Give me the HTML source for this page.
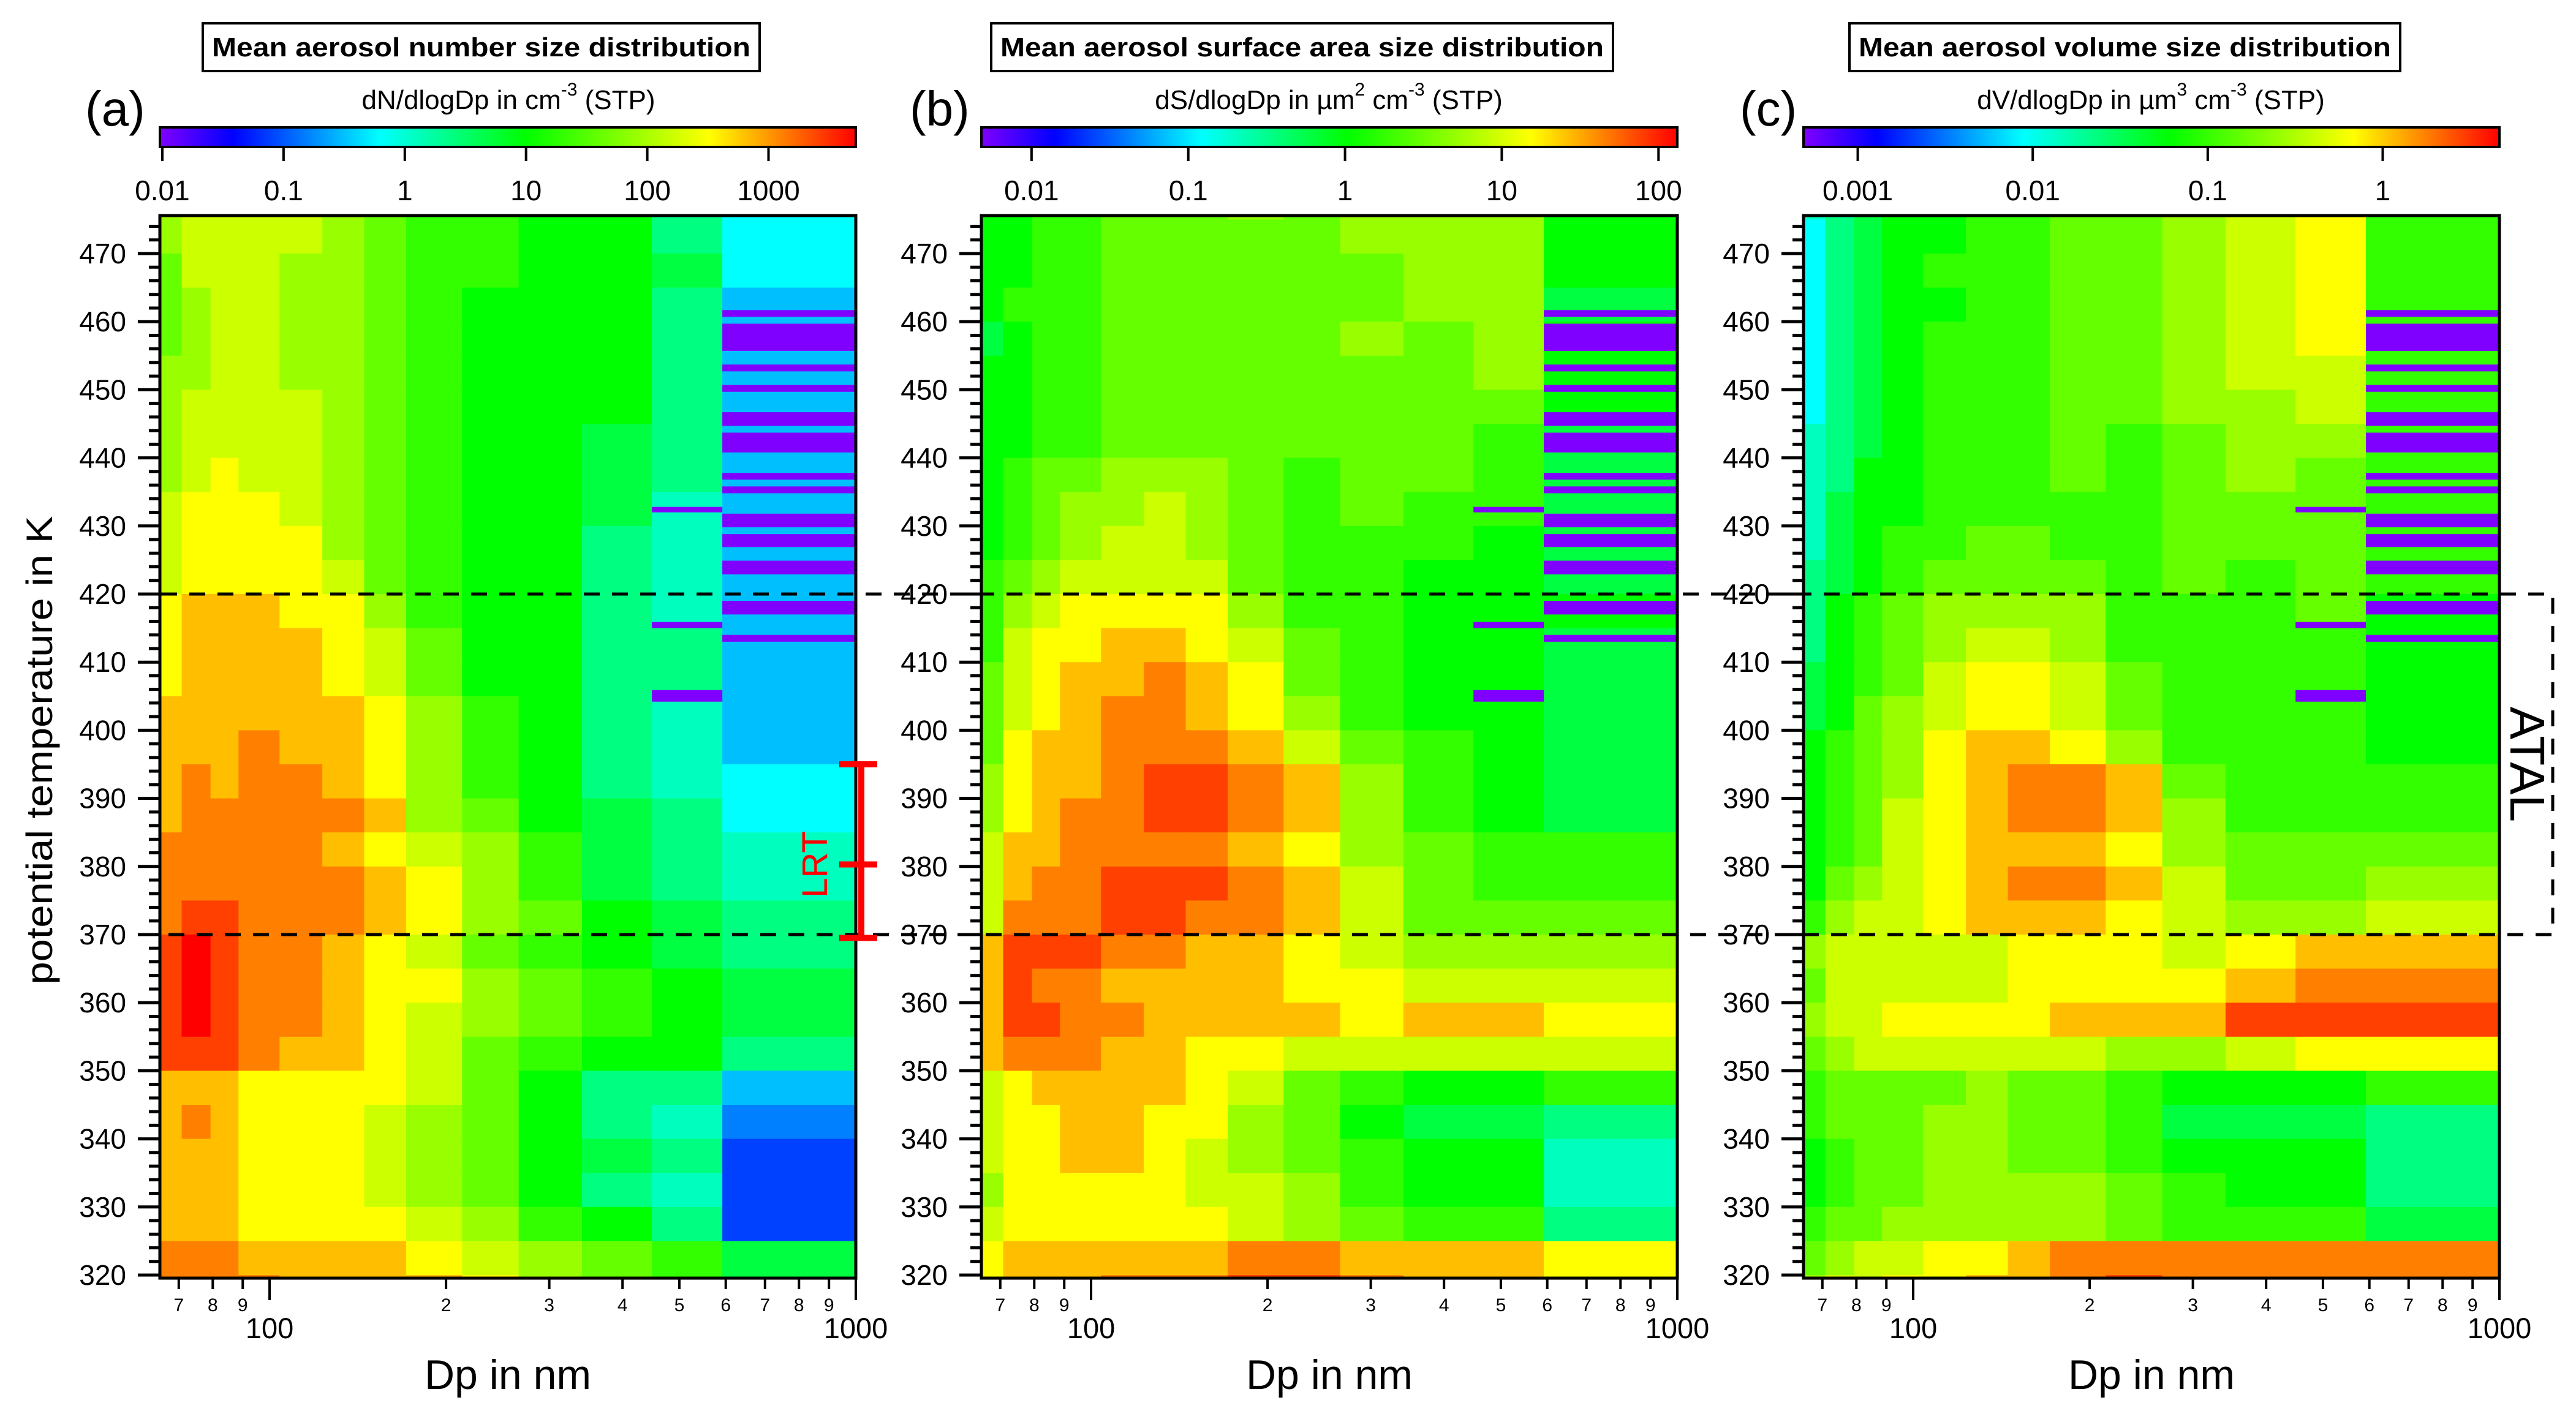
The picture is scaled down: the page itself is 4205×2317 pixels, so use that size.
<!DOCTYPE html>
<html><head><meta charset="utf-8">
<style>
html,body{margin:0;padding:0;background:#fff;}
svg{display:block;font-family:"Liberation Sans",Arial,sans-serif;}
</style></head>
<body>
<svg id="fig" xmlns="http://www.w3.org/2000/svg" width="4205" height="2317" viewBox="0 0 4205 2317">
<defs>
<linearGradient id="rainbow" x1="0" y1="0" x2="1" y2="0">
<stop offset="0" stop-color="#8000ff"/><stop offset="0.105" stop-color="#0000ff"/><stop offset="0.316" stop-color="#00ffff"/><stop offset="0.526" stop-color="#00ff00"/><stop offset="0.79" stop-color="#ffff00"/><stop offset="1" stop-color="#ff0000"/>
</linearGradient>
</defs>
<rect x="0" y="0" width="4205" height="2317" fill="#fff"/>
<g id="layer"></g>
</svg>
<script>
// ---- data ----
const binEdgesNm = [65, 70.8, 79.3, 88.5, 104, 123, 145, 171, 213, 266, 341, 449, 592, 1000];
const rowTopK = [480,475,470,465,460,455,450,445,440,435,430,425,420,415,410,405,400,395,390,385,380,375,370,365,360,355,350,345,340,335,330,325,320];
// level codes 0..J (0..19) along each colorbar (purple -> red)
const numberRows = ["DEEEEDCBBAA86","DEEEEDCBBAA86","CEEEDDCBBAA96","CDEEDDCBAAA85","CDEEDDCBAAA85","DDEEDDCBAAA85","DEEEEDCBAAA85","DEEEEDCBAA985","DEFEEDCBAA985","EFFFEDCBAA975","EFFFFDCBAA875","EFFFFECBAA875","FGGGFFDBAA875","FGGGGFECAA885","FGGGGFECAA885","GGGGGGFDBA875","GGGHGGFDBA875","GHGHHGFDBA876","GHHHHHGDCA986","HHHHHGFEDB987","HHHHHHGFDB987","HIIHHHGFDCA98","IJIHHGFECBA98","IJIHHGFFDCBA9","IJIHHGFEDCBA9","IIIHGGFECBAA8","GGGFFFFECA885","GHGFFFEDCA874","GGGFFFEDCA983","GGGFFFEDCA873","GGGFFFFEDBA83","HHHGGGGFEDCB9","HHHHGGGGFDCB9"];
const surfaceRows = ["AABBCCCDCDDDA","AABBCCCCCDDDA","AABBCCCCCCDDA","ABBBCCCCCCDD9","9ABBCCCCCDCDA","AABBCCCCCCCDA","AABBCCCCCCCCA","AABBCCCCCCCB9","ABCCDDDCBCCB9","ABCDDEDCBCBB9","ABCDEEDCBBBA9","BCDEEEECBBAA9","BDEFFFFDBBAAA","BEFFGGFECBAA9","CEFGGHGFCBAA9","CEFGHHGFDBAA9","CFGGHHHGECBA9","DFGGHIIHGDBA9","DFGHHIIHGDBA9","EGGHHHHGFDCBB","EGHHIIIHGECBB","EHHHIIHHGECCC","GIIIHHGGFEDDD","GIHHGGGGFFEEE","GIIHHGGGGFGGF","GHHHGGFFEEEEE","EFGGGGFECBAAB","EFFGGFFDCA998","EFFGGFEDCBAA7","DFFFFFEEDBAA7","EFFFFFFEDCBB8","FGGGGGGHHGGGF","FGGGHHHIIHGGF"];
const volumeRows = ["789AABBCCDEFB","689AABBCCDEFB","689ABBBCCDEFB","689AABBCCDEFB","689ABBBCCDEFB","689ABBBCCDEEB","689ABBBCCDDEB","789ABBBCBCDDB","78AABBBCBCDCB","79AABBBBBCCCB","79ABBCCBBCCCB","89ABCCCCBCBCB","8ABCDDDDBBBCA","8ABCDEEDBBBBA","9ABCEFFECBBBA","9ACDEFFECBBBA","ABCDFGGFDBBBA","ABCDFGHHGCBBB","ABCEFGHHGDBBB","ABCEFGGGFDCCC","ACDEFGHHGECCD","BDEEFGGGFEDDE","DEEEEEFFFEFGG","CEEEEEFFFFGHH","DEEFFFFGGGIII","CDEEEEEEDDEFF","BCCCCDCCBAAAB","BCCCDDCCB9998","ABCCDDCCBAAA8","ABCCDDDDCBAA8","BCCDDDDDCBBB9","CDEEFFGHHHHHH","DEEFFGGHIHHHH"];
// missing (below-range) bins: [lowK, highK, binIndex]
const missingBins = [[460.7,461.7,12],[455.7,459.7,12],[452.7,453.7,12],[449.7,450.7,12],[444.7,446.7,12],[440.8,443.7,12],[436.8,437.8,12],[434.8,435.8,12],[429.8,431.8,12],[426.9,428.8,12],[422.9,424.9,12],[417,419,12],[413,414,12],[432,432.8,11],[415,415.9,11],[404.2,405.9,11]];
const yTickLabels = [320,330,340,350,360,370,380,390,400,410,420,430,440,450,460,470];
const xMinorTicks = [70,80,90,200,300,400,500,600,700,800,900];
const xMinorLabels = ["7","8","9","2","3","4","5","6","7","8","9"];
const xMajorTicks = [100,1000];
const cbTicksA = [0.01,0.1,1,10,100,1000];
const cbTicksB = [0.01,0.1,1,10,100];
const cbTicksC = [0.001,0.01,0.1,1];
const atalK = [370,420];
const lrtK = [369.5,380.3,395];

// ---- layout ----
const NS="http://www.w3.org/2000/svg";
const layer=document.getElementById('layer');
const plotTop=352, plotBot=2087, PW=1136;
const logMin=Math.log10(65), logMax=3;
function yK(T){return 2082-(T-320)*11.12;}
function xD(left,d){return left+(Math.log10(d)-logMin)/(logMax-logMin)*PW;}
function el(tag,attrs,parent){const e=document.createElementNS(NS,tag);for(const k in attrs)e.setAttribute(k,attrs[k]);(parent||layer).appendChild(e);return e;}
const stops=[[0,[128,0,255]],[2,[0,0,255]],[6,[0,255,255]],[10,[0,255,0]],[15,[255,255,0]],[19,[255,0,0]]];
function colorAt(L){L=Math.max(0,Math.min(19,L));for(let i=0;i<stops.length-1;i++){const a=stops[i],b=stops[i+1];if(L<=b[0]){const t=(L-a[0])/(b[0]-a[0]);const c=a[1].map((v,j)=>Math.round(v+(b[1][j]-v)*t));return 'rgb('+c.join(',')+')';}}return 'rgb(255,0,0)';}
const codes="0123456789ABCDEFGHIJ";

const panels=[
 {key:'a',left:261,rows:numberRows,lo:-2.02,hi:3.72,ticks:cbTicksA,tickLbl:["0.01","0.1","1","10","100","1000"],
  title:'Mean aerosol number size distribution',box:[331,1240],cbCenter:830,cbLabel:['dN/dlogDp in cm','-3',' (STP)'],letterX:139},
 {key:'b',left:1602,rows:surfaceRows,lo:-2.32,hi:2.12,ticks:cbTicksB,tickLbl:["0.01","0.1","1","10","100"],
  title:'Mean aerosol surface area size distribution',box:[1618,2633],cbCenter:2169,cbLabel:['dS/dlogDp in µm','2',' cm','-3',' (STP)'],letterX:1485},
 {key:'c',left:2944,rows:volumeRows,lo:-3.31,hi:0.667,ticks:cbTicksC,tickLbl:["0.001","0.01","0.1","1"],
  title:'Mean aerosol volume size distribution',box:[3019,3918],cbCenter:3511,cbLabel:['dV/dlogDp in µm','3',' cm','-3',' (STP)'],letterX:2840}
];

panels.forEach(p=>{
  const g=el('g',{});
  
  
  const cp=el('clipPath',{id:'clip-'+p.key},g);
  el('rect',{x:p.left,y:plotTop,width:PW,height:plotBot-plotTop},cp);
  const hm=el('g',{'clip-path':'url(#clip-'+p.key+')'},g);
  
  
  p.rows.forEach((row,ri)=>{
    const top=rowTopK[ri];
    for(let ci=0;ci<binEdgesNm.length-1;ci++){
      const L=codes.indexOf(row[ci]);
      const value=p.lo+(L/19)*(p.hi-p.lo);
      const x0=xD(p.left,binEdgesNm[ci]), x1=xD(p.left,binEdgesNm[ci+1]);
      const y0=yK(top), y1=yK(top-5);
      const r=el('rect',{x:x0.toFixed(1),y:y0.toFixed(1),width:(x1-x0+0.6).toFixed(1),height:(y1-y0+0.6).toFixed(1),fill:colorAt((value-p.lo)/(p.hi-p.lo)*19)},hm);
      
      
    }
  });
  missingBins.forEach(m=>{
    const x0=xD(p.left,binEdgesNm[m[2]]), x1=xD(p.left,binEdgesNm[m[2]+1]);
    const r=el('rect',{x:x0,y:yK(m[1]),width:x1-x0,height:yK(m[0])-yK(m[1]),fill:'#8000ff'},hm);
    
    
  });
  const fr=el('rect',{x:p.left,y:plotTop,width:PW,height:plotBot-plotTop,fill:'none',stroke:'#000','stroke-width':5},g);
  
  
  for(let T=320;T<=474;T+=2){
    const major=(T%10===0);
    const t=el('line',{x1:p.left-(major?36:18),x2:p.left,y1:yK(T),y2:yK(T),stroke:'#000','stroke-width':5},g);
    
    
  }
  yTickLabels.forEach(T=>{
    const t=el('text',{x:p.left-55,y:yK(T)+16,'font-size':46,'text-anchor':'end'},g);
    t.textContent=T;
    
    
  });
  xMinorTicks.forEach((d,i)=>{
    const x=xD(p.left,d);
    const t=el('line',{x1:x,x2:x,y1:plotBot,y2:plotBot+18,stroke:'#000','stroke-width':4},g);
    
    
    const l=el('text',{x:x,y:2141,'font-size':30,'text-anchor':'middle'},g);
    l.textContent=xMinorLabels[i];
    
    
  });
  xMajorTicks.forEach(d=>{
    const x=xD(p.left,d);
    const t=el('line',{x1:x,x2:x,y1:plotBot,y2:plotBot+36,stroke:'#000','stroke-width':4},g);
    
    
    const l=el('text',{x:x,y:2185,'font-size':47,'text-anchor':'middle'},g);
    l.textContent=d;
    
    
  });
  const xt=el('text',{x:p.left+PW/2,y:2268,'font-size':68,'text-anchor':'middle'},g);
  xt.textContent='Dp in nm';
  
  
  const tb=el('rect',{x:p.box[0],y:38,width:p.box[1]-p.box[0],height:78,fill:'#fff',stroke:'#000','stroke-width':4},g);
  
  
  const tt=el('text',{x:(p.box[0]+p.box[1])/2,y:92,'font-size':44,'font-weight':'bold','text-anchor':'middle',textLength:(p.box[1]-p.box[0]-30),lengthAdjust:'spacingAndGlyphs'},g);
  tt.textContent=p.title;
  
  
  const pl=el('text',{x:p.letterX,y:205,'font-size':80},g);
  pl.textContent='('+p.key+')';
  
  
  const cb=el('rect',{x:p.left,y:208,width:PW,height:32,fill:'url(#rainbow)',stroke:'#000','stroke-width':4},g);
  
  
  p.ticks.forEach((v,i)=>{
    const x=p.left+(Math.log10(v)-p.lo)/(p.hi-p.lo)*PW;
    const t=el('line',{x1:x,x2:x,y1:240,y2:263,stroke:'#000','stroke-width':4},g);
    
    
    const l=el('text',{x:x,y:327,'font-size':46,'text-anchor':'middle'},g);
    l.textContent=p.tickLbl[i];
    
    
  });
  const cl=el('text',{x:p.cbCenter,y:178,'font-size':44,'text-anchor':'middle'},g);
  
  
  p.cbLabel.forEach((s,i)=>{
    const sup=(s==='-3'||s==='2'||s==='3');
    const ts=el('tspan',sup?{'font-size':30,dy:-22}:(i>0&&p.cbLabel[i-1].length<=2?{dy:22}:{}),cl);
    ts.textContent=s;
  });
});

const yt=el('text',{x:0,y:0,'font-size':60,'text-anchor':'middle',transform:'translate(85,1225) rotate(-90)',textLength:765,lengthAdjust:'spacingAndGlyphs'});
yt.textContent='potential temperature in K';



const atal=el('path',{d:'M263,'+yK(atalK[1])+' H4167 V'+yK(atalK[0])+' H263',fill:'none',stroke:'#000','stroke-width':5,'stroke-dasharray':'26,20'});


const at=el('text',{x:0,y:0,'font-size':80,'text-anchor':'middle',transform:'translate(4098,'+((yK(atalK[0])+yK(atalK[1]))/2)+') rotate(90)'});
at.textContent='ATAL';



const lrt=el('g',{stroke:'#ff0000','stroke-width':10});


el('line',{x1:1406,x2:1406,y1:yK(lrtK[2]),y2:yK(lrtK[0])},lrt);
lrtK.forEach(T=>{el('line',{x1:1370,x2:1432,y1:yK(T),y2:yK(T)},lrt);});
const lt=el('text',{x:0,y:0,'font-size':58,fill:'#ff0000','text-anchor':'middle',transform:'translate(1350,'+yK(lrtK[1])+') rotate(-90)'});
lt.textContent='LRT';


</script>
</body></html>
